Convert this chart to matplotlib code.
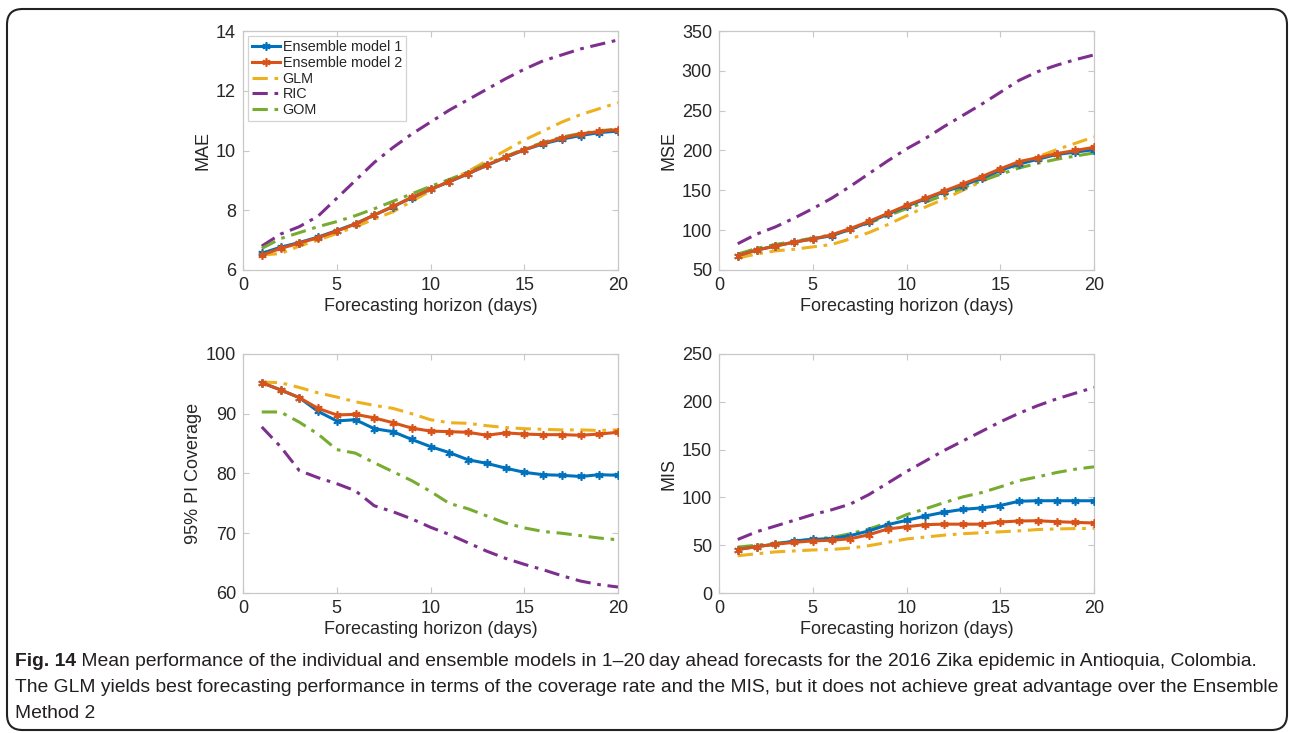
import numpy as np
import matplotlib
matplotlib.use("Agg")
import matplotlib.pyplot as plt
from matplotlib.patches import FancyBboxPatch

# ---- data ----
days = list(range(1, 21))

mae_ens1 = [6.56, 6.76, 6.92, 7.10, 7.32, 7.55, 7.84, 8.12, 8.42, 8.70, 8.95, 9.22, 9.50, 9.77, 10.02, 10.22, 10.38, 10.50, 10.60, 10.65]
mae_ens2 = [6.50, 6.72, 6.90, 7.08, 7.30, 7.54, 7.84, 8.13, 8.43, 8.70, 8.96, 9.23, 9.51, 9.78, 10.03, 10.24, 10.42, 10.55, 10.64, 10.70]
mae_glm  = [6.50, 6.55, 6.80, 7.00, 7.22, 7.45, 7.70, 7.95, 8.30, 8.65, 9.00, 9.30, 9.65, 10.00, 10.35, 10.65, 10.95, 11.20, 11.40, 11.60]
mae_ric  = [6.80, 7.20, 7.45, 7.80, 8.40, 9.00, 9.60, 10.10, 10.55, 10.95, 11.35, 11.70, 12.05, 12.40, 12.72, 13.00, 13.20, 13.40, 13.55, 13.70]
mae_gom  = [6.72, 7.05, 7.25, 7.45, 7.62, 7.82, 8.05, 8.30, 8.55, 8.80, 9.03, 9.28, 9.55, 9.80, 10.05, 10.27, 10.45, 10.57, 10.66, 10.72]

mse_ens1 = [68, 75, 80, 85, 89, 93, 101, 110, 120, 130, 139, 148, 156, 165, 175, 183, 189, 195, 198, 201]
mse_ens2 = [68, 75, 80, 85, 89, 94, 102, 111, 121, 131, 140, 149, 158, 167, 177, 186, 191, 196, 200, 204]
mse_glm  = [65, 70, 74, 76, 79, 82, 89, 97, 107, 118, 129, 139, 150, 161, 172, 182, 192, 201, 209, 217]
mse_ric  = [83, 95, 104, 115, 127, 140, 155, 171, 187, 202, 215, 230, 244, 258, 273, 288, 299, 307, 314, 320]
mse_gom  = [70, 77, 82, 86, 90, 94, 101, 109, 118, 127, 135, 144, 153, 162, 170, 178, 184, 189, 193, 197]

cov_ens1 = [95.2, 94.0, 92.7, 90.4, 88.8, 89.0, 87.5, 87.0, 85.7, 84.5, 83.5, 82.3, 81.7, 80.9, 80.2, 79.8, 79.7, 79.5, 79.8, 79.7]
cov_ens2 = [95.2, 94.0, 92.7, 90.9, 89.8, 89.9, 89.3, 88.5, 87.6, 87.1, 87.0, 86.9, 86.4, 86.8, 86.6, 86.5, 86.5, 86.4, 86.6, 86.9]
cov_glm  = [95.3, 95.2, 94.4, 93.5, 92.8, 92.0, 91.4, 90.9, 90.0, 89.0, 88.5, 88.4, 88.0, 87.7, 87.5, 87.4, 87.3, 87.3, 87.2, 87.3]
cov_ric  = [87.8, 84.5, 80.5, 79.3, 78.3, 77.1, 74.6, 73.6, 72.4, 71.0, 69.8, 68.4, 67.0, 65.8, 64.8, 63.9, 62.9, 62.0, 61.4, 61.0]
cov_gom  = [90.3, 90.3, 88.6, 86.6, 84.0, 83.4, 81.8, 80.3, 78.8, 77.0, 75.0, 74.1, 72.9, 71.7, 70.9, 70.3, 70.0, 69.6, 69.2, 68.9]

mis_ens1 = [45.5, 48.5, 51, 54.5, 56, 57, 60, 65, 71.5, 76, 80.5, 84.5, 87.5, 89, 91.5, 96, 96.5, 96.5, 96.5, 96.5]
mis_ens2 = [45.5, 48.5, 51, 53, 54.5, 55.2, 56.7, 61, 67, 69.3, 71.5, 72, 72, 72, 74.3, 75.3, 75.6, 74.6, 73.9, 73.2]
mis_glm  = [39, 41, 43, 44, 45, 45.5, 47, 49.5, 53, 56.5, 58.5, 60.5, 62, 63, 64, 65, 66.4, 67, 67.4, 67.6]
mis_ric  = [56, 64, 70, 76, 82, 87, 93, 103, 115, 127, 138, 149, 159, 169, 179, 188, 196, 203, 209, 215]
mis_gom  = [48, 50, 52, 54, 56.5, 58, 62, 67, 73.5, 82, 88, 94.5, 100.5, 105, 111, 117.5, 121.5, 126, 129.5, 132]

model_names = ["Ensemble model 1", "Ensemble model 2", "GLM", "RIC", "GOM"]

panels = [
    ("MAE", (6, 14), [6, 8, 10, 12, 14], [mae_ens1, mae_ens2, mae_glm, mae_ric, mae_gom]),
    ("MSE", (50, 350), [50, 100, 150, 200, 250, 300, 350], [mse_ens1, mse_ens2, mse_glm, mse_ric, mse_gom]),
    ("95% PI Coverage", (60, 100), [60, 70, 80, 90, 100], [cov_ens1, cov_ens2, cov_glm, cov_ric, cov_gom]),
    ("MIS", (0, 250), [0, 50, 100, 150, 200, 250], [mis_ens1, mis_ens2, mis_glm, mis_ric, mis_gom]),
]

caption_bold = "Fig. 14"
caption_1 = " Mean performance of the individual and ensemble models in 1\u201320\u2009day ahead forecasts for the 2016 Zika epidemic in Antioquia, Colombia."
caption_2 = ("The GLM yields best forecasting performance in terms of the coverage rate and the MIS, "
             "but it does not achieve great advantage over the Ensemble")
caption_3 = "Method 2"

# ---- MATLAB default look ----
BLUE = "#0072BD"; RED = "#D95319"; YEL = "#EDB120"; PUR = "#7E2F8E"; GRN = "#77AC30"
COLORS = [BLUE, RED, YEL, PUR, GRN]
TXT = "#262626"; BOX = "#c8c8c8"
ASTER = (6, 2, 0)

plt.rcParams.update({"font.family": ["Liberation Sans", "DejaVu Sans"], "font.size": 11,
                     "xtick.direction": "in", "ytick.direction": "in",
                     "xtick.color": BOX, "ytick.color": BOX,
                     "xtick.labelcolor": TXT, "ytick.labelcolor": TXT})

W, H = 1290, 733
fig = plt.figure(figsize=(W / 100, H / 100), dpi=100)


def px_axes(left, top, right, bottom):
    return fig.add_axes([left / W, 1 - bottom / H, (right - left) / W, (bottom - top) / H])


boxes = [(243, 31, 618, 270), (719, 31, 1094, 270), (243, 354, 618, 593), (719, 354, 1094, 593)]

for (label, ylim, yticks, series), box in zip(panels, boxes):
    ax = px_axes(*box)
    for i, (vals, c, name) in enumerate(zip(series, COLORS, model_names)):
        if i < 2:
            ax.plot(days, vals, color=c, lw=2.2, marker=ASTER, ms=6, mew=1.2, label=name, zorder=4 + (i == 1))
        else:
            ax.plot(days, vals, color=c, lw=2.2, ls=(0, (5, 2.2, 1.2, 2.2)), label=name, zorder=3)
    ax.set_xlim(0, 20); ax.set_ylim(*ylim)
    ax.set_xticks([0, 5, 10, 15, 20]); ax.set_yticks(yticks)
    ax.tick_params(labelsize=13, length=4, width=0.8, pad=5, top=True, right=True,
                   labeltop=False, labelright=False)
    for s in ax.spines.values():
        s.set_color(BOX); s.set_linewidth(0.9)
    ax.set_xlabel("Forecasting horizon (days)", fontsize=13, color=TXT, labelpad=3)
    ax.set_ylabel(label, fontsize=13, color=TXT, labelpad=3)
    if label == "MAE":
        leg = ax.legend(loc="upper left", bbox_to_anchor=(0.013, 0.98), borderaxespad=0, fontsize=10.4,
                        frameon=True, fancybox=False, handlelength=1.9, handletextpad=0.2,
                        labelspacing=0.12, borderpad=0.3)
        leg.get_frame().set_edgecolor(BOX); leg.get_frame().set_linewidth(0.9)
        for t in leg.get_texts():
            t.set_color(TXT)

# ---- outer rounded frame ----
frame = FancyBboxPatch((7 / W, 3 / H), 1280 / W, 721 / H, boxstyle="round,pad=0,rounding_size=0.012",
                       transform=fig.transFigure, fill=False, ec="#222222", lw=1.5, mutation_aspect=W / H)
fig.add_artist(frame)

# ---- caption ----
cap_fam = ["Liberation Sans", "DejaVu Sans"]
cap_size = 13.9
tb = fig.text(15 / W, 1 - 661 / H, caption_bold, fontsize=cap_size, fontweight="bold", family=cap_fam,
              color="#231F20", va="center", ha="left")
fig.canvas.draw()
bb = tb.get_window_extent(fig.canvas.get_renderer())
fig.text(bb.x1 / W, 1 - 661 / H, caption_1, fontsize=cap_size, family=cap_fam, color="#231F20", va="center", ha="left")
fig.text(15 / W, 1 - 688 / H, caption_2, fontsize=cap_size, family=cap_fam, color="#231F20", va="center", ha="left")
fig.text(15 / W, 1 - 714 / H, caption_3, fontsize=cap_size, family=cap_fam, color="#231F20", va="center", ha="left")

fig.savefig("out.png", dpi=100, facecolor="white")
